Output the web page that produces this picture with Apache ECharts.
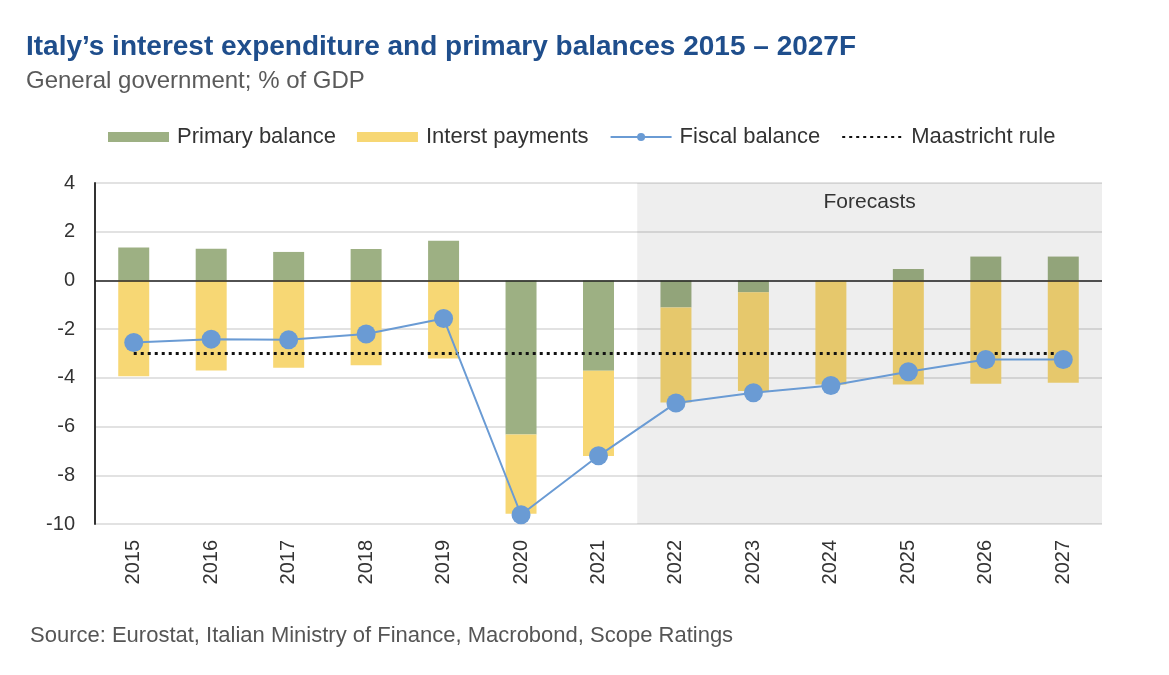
<!DOCTYPE html>
<html><head><meta charset="utf-8">
<script src="https://cdn.jsdelivr.net/npm/echarts@6/dist/echarts.min.js"></script>
<style>html,body{margin:0;padding:0;background:#fff}#c{width:1169px;height:675px}</style>
</head><body><div id="c"></div>
<script>
const years = ['2015','2016','2017','2018','2019','2020','2021','2022','2023','2024','2025','2026','2027'];
const primaryBalance = [1.35, 1.30, 1.17, 1.29, 1.63, -6.33, -3.71, -1.11, -0.49, 0, 0.47, 0.98, 0.98];
const interestPayments = [-3.93, -3.70, -3.58, -3.48, -3.21, -3.25, -3.50, -3.90, -4.05, -4.27, -4.27, -4.24, -4.20];
const fiscalBalance = [-2.55, -2.41, -2.44, -2.20, -1.56, -9.62, -7.20, -5.03, -4.61, -4.31, -3.75, -3.25, -3.25];
const maastricht = [-3, -3, -3, -3, -3, -3, -3, -3, -3, -3, -3, -3, -3];
const yTicks = { min: -10, max: 4, interval: 2 };
const forecastStart = '2022';

const font = 'Liberation Sans, Arial, sans-serif';
const chart = echarts.init(document.getElementById('c'));
const startIdx = years.indexOf(forecastStart);
chart.setOption({
  animation: false,
  textStyle: { fontFamily: font },
  title: [
    { text: 'Italy\u2019s interest expenditure and primary balances 2015 \u2013 2027F', left: 21, top: 28,
      textStyle: { fontSize: 28, fontWeight: 'bold', color: '#1F4E8C', fontFamily: font } },
    { text: 'General government; % of GDP', left: 21, top: 64,
      textStyle: { fontSize: 24, fontWeight: 'normal', color: '#5A5A5A', fontFamily: font } },
    { text: 'Source: Eurostat, Italian Ministry of Finance, Macrobond, Scope Ratings', left: 25, top: 620,
      textStyle: { fontSize: 22, fontWeight: 'normal', color: '#555', fontFamily: font } }
  ],
  legend: {
    top: 121, left: 103, itemGap: 21, itemWidth: 61, itemHeight: 10,
    textStyle: { fontSize: 22, color: '#333', fontFamily: font, padding: [0, 0, 0, 3] },
    data: [
      { name: 'Primary balance', icon: 'rect' },
      { name: 'Interst payments', icon: 'rect' },
      { name: 'Fiscal balance' },
      { name: 'Maastricht rule' }
    ]
  },
  grid: { left: 95, right: 67, top: 183, bottom: 151 },
  xAxis: [
    { type: 'category', data: years, position: 'bottom',
      axisLine: { show: false, onZero: false }, axisTick: { show: false },
      axisLabel: { rotate: 90, fontSize: 20, color: '#333', margin: 16 } },
    { type: 'value', min: 0, max: years.length, show: false }
  ],
  yAxis: {
    type: 'value', min: yTicks.min, max: yTicks.max, interval: yTicks.interval,
    axisLine: { show: true, lineStyle: { color: '#333', width: 2 } },
    axisTick: { show: false },
    axisLabel: { fontSize: 20, color: '#333', margin: 20 },
    splitLine: { lineStyle: { color: '#D9D9D9', width: 1.5 } }
  },
  series: [
    { name: 'Primary balance', type: 'bar', stack: 'b', data: primaryBalance, barWidth: '40%',
      itemStyle: { color: '#9DB083' }, z: 2,
      markLine: { silent: true, symbol: 'none', label: { show: false },
        lineStyle: { color: '#222', width: 1.5, type: 'solid' }, data: [{ yAxis: 0 }] } },
    { name: 'Interst payments', type: 'bar', stack: 'b', data: interestPayments, barWidth: '40%',
      itemStyle: { color: '#F7D774' }, z: 2 },
    { name: 'shade', type: 'line', xAxisIndex: 1, data: [], z: 3,
      markArea: { silent: true, z: 3,
        itemStyle: { color: 'rgba(0,0,0,0.065)' },
        label: { show: true, position: 'insideTop', distance: 9, fontSize: 21, color: '#333', fontFamily: font },
        data: [[{ name: 'Forecasts', xAxis: startIdx, yAxis: yTicks.max }, { xAxis: years.length, yAxis: yTicks.min }]] } },
    { name: 'Maastricht rule', type: 'line', data: maastricht, symbol: 'none', z: 4,
      lineStyle: { color: '#111', width: 3, type: [3, 4] },
      itemStyle: { color: 'rgba(0,0,0,0)', borderWidth: 0 } },
    { name: 'Fiscal balance', type: 'line', data: fiscalBalance, symbol: 'circle', symbolSize: 19, z: 5,
      lineStyle: { color: '#6A9BD4', width: 2 }, itemStyle: { color: '#6A9BD4' } }
  ]
});
</script></body></html>
